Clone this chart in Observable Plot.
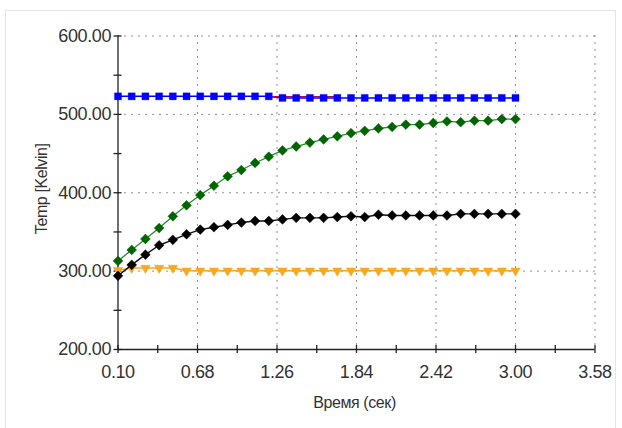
<!DOCTYPE html>
<html>
<head>
<meta charset="utf-8">
<script src="https://cdn.jsdelivr.net/npm/d3@7"></script>
<script src="https://cdn.jsdelivr.net/npm/@observablehq/plot@0.6"></script>
<style>
  html, body { margin: 0; padding: 0; background: #ffffff; }
  #wrap { position: relative; width: 622px; height: 428px; overflow: hidden; }
  #border { position: absolute; left: 5px; top: 10px; width: 611px; height: 420px; border: 1px solid #e4e4e4; box-sizing: border-box; }
  #chart { position: absolute; left: 0; top: 0; }
  #chart svg text { letter-spacing: -0.4px; }
</style>
</head>
<body>
<div id="wrap"><div id="border"></div><div id="chart"></div></div>
<script>
// ---- data ----
const time = [0.1,0.2,0.3,0.4,0.5,0.6,0.7,0.8,0.9,1.0,1.1,1.2,1.3,1.4,1.5,1.6,1.7,1.8,1.9,2.0,2.1,2.2,2.3,2.4,2.5,2.6,2.7,2.8,2.9,3.0];
const blueTemp = [523,523,523,523,523,523,523,523,523,523,523,523,521,521,521,521,521,521,521,521,521,521,521,521,521,521,521,521,521,521];
const greenTemp = [313,327,341,355,370,384,397,409,421,429,438,446,454,459,464,468,472,476,479,482,484,487,487,489,491,490,492,492,494,494];
const blackTemp = [294,308,321,333,340,347,353,356,359,362,364,364,366,368,368,368,369,370,369,372,371,371,371,371,371,373,373,373,373,373];
const orangeTemp = [301,304,304,304,304,300.5,300.5,300.5,300.5,300.5,300.5,300.5,300.5,300.5,300.5,300.5,300.5,300.5,300.5,300.5,300.5,300.5,300.5,300.5,300.5,300.5,300.5,300.5,300.5,300.5];
const redTime = [1.2,1.3,1.4,1.5,1.6,1.7];
const redTemp = [522.5,522.5,522.5,522.5,522.5,522.5];

const xTicks = [0.10,0.68,1.26,1.84,2.42,3.00,3.58];
const xMinor = [0.39,0.97,1.55,2.13,2.71,3.29];
const yTicks = [200,300,400,500,600];
const yMinor = [250,350,450,550];
const xLabel = "Время (сек)";
const yLabel = "Temp [Kelvin]";

const rows = (vals, t = time) => t.map((x, i) => ({x, v: vals[i]}));
const blue = rows(blueTemp), green = rows(greenTemp), black = rows(blackTemp), orange = rows(orangeTemp), red = rows(redTemp, redTime);

const chart = Plot.plot({
  width: 622, height: 428,
  marginLeft: 117.5, marginRight: 27.5, marginTop: 35.5, marginBottom: 79,
  style: {fontFamily: "'Liberation Sans', Arial, sans-serif", background: "transparent", color: "#333"},
  x: {domain: [0.10, 3.58]},
  y: {domain: [200, 600]},
  marks: [
    // dotted grid
    Plot.ruleY(yTicks.slice(1), {stroke: "#111", strokeWidth: 1, strokeDasharray: "1,6", strokeOpacity: 0.9}),
    Plot.ruleX(xTicks.slice(1), {stroke: "#111", strokeWidth: 1, strokeDasharray: "1,6", strokeOpacity: 0.9}),
    // axis lines
    Plot.ruleX([0.10], {stroke: "#222", strokeWidth: 1.3}),
    Plot.ruleY([200], {stroke: "#222", strokeWidth: 1.3}),
    // crossing ticks
    Plot.ruleX(xTicks.concat(xMinor), {x: d => d, y1: 200, y2: 200, insetTop: -4, insetBottom: -4, stroke: "#222", strokeWidth: 1.3}),
    Plot.ruleY(yTicks.concat(yMinor), {y: d => d, x1: 0.10, x2: 0.10, insetLeft: -4, insetRight: -4, stroke: "#222", strokeWidth: 1.3}),
    // tick labels
    Plot.axisX({ticks: xTicks, tickFormat: d => d.toFixed(2), tickSize: 0, tickPadding: 16, fontSize: 18, label: null}),
    Plot.axisY({ticks: yTicks, tickFormat: d => d.toFixed(2), tickSize: 0, tickPadding: 7, fontSize: 18, label: null}),
    // axis titles
    Plot.text([xLabel], {frameAnchor: "bottom", textAnchor: "middle", dx: -2, dy: 58, fontSize: 16, fill: "#333"}),
    Plot.text([yLabel], {frameAnchor: "left", textAnchor: "middle", dx: -76, dy: -4, rotate: -90, fontSize: 16, fill: "#333"}),
    // orange series
    Plot.line(orange, {x: "x", y: "v", stroke: "#f7a823", strokeWidth: 1.6}),
    Plot.dot(orange, {x: "x", y: "v", symbol: "triangle", rotate: 180, r: 3.5, fill: "#f7a823", stroke: "#f7a823", strokeWidth: 0.5}),
    // green series
    Plot.line(green, {x: "x", y: "v", stroke: "#2c8a2c", strokeWidth: 1.3}),
    Plot.dot(green, {x: "x", y: "v", symbol: "diamond2", r: 4.4, fill: "#006400", stroke: "#006400", strokeWidth: 0.5}),
    // black series
    Plot.line(black, {x: "x", y: "v", stroke: "#111", strokeWidth: 1.4}),
    Plot.dot(black, {x: "x", y: "v", symbol: "diamond2", r: 4.4, fill: "#000", stroke: "#000", strokeWidth: 0.5}),
    // blue series with red line partly over it
    Plot.line(blue, {x: "x", y: "v", stroke: "#0000ff", strokeWidth: 1.5}),
    Plot.line(red, {x: "x", y: "v", stroke: "#a0105a", strokeWidth: 1.5}),
    Plot.dot(blue, {x: "x", y: "v", symbol: "square", r: 4, fill: "#0000ff", stroke: "#0000ff", strokeWidth: 0.3})
  ]
});
document.getElementById("chart").appendChild(chart);
</script>
</body>
</html>
